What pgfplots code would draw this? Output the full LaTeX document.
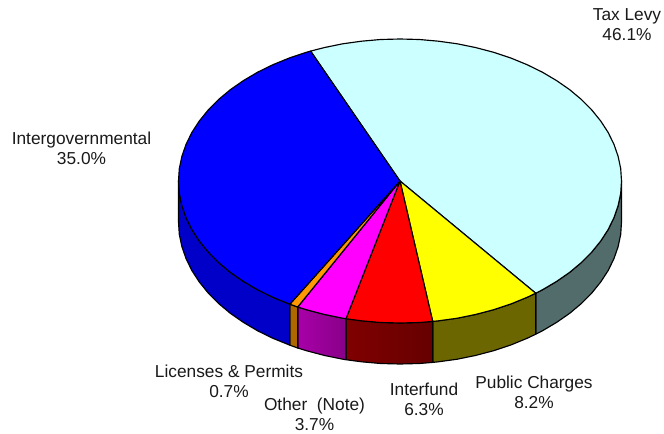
\documentclass[border=0pt]{standalone}
\usepackage{fontspec}
\setmainfont{Liberation Sans}
\usepackage{pgfplots}
\pgfplotsset{compat=1.18}
\definecolor{taxtop}{HTML}{CCFFFF}
\definecolor{taxside}{HTML}{526B6B}
\definecolor{puretop}{HTML}{FFFF00}
\definecolor{pubside}{HTML}{6B6600}
\definecolor{redtop}{HTML}{FF0000}
\definecolor{redsideA}{HTML}{800000}
\definecolor{redsideB}{HTML}{660000}
\definecolor{magtop}{HTML}{FF00FF}
\definecolor{magsideA}{HTML}{A800A8}
\definecolor{magsideB}{HTML}{880088}
\definecolor{bluetop}{HTML}{0000FF}
\definecolor{blueside}{HTML}{0000C8}
\definecolor{orangetop}{HTML}{FF9900}
\definecolor{orangeside}{HTML}{AD6800}
\tikzset{lab/.style={font=\fontsize{17.3bp}{20bp}\selectfont, text=black!90, align=center, inner sep=0pt}}
\begin{document}
\begin{tikzpicture}
\path[use as bounding box] (0,0) rectangle (664bp,434bp);
\begin{axis}[
  at={(0,0)}, anchor=south west,
  scale only axis, width=664bp, height=434bp,
  xmin=0, xmax=664, ymin=0, ymax=434,
  y dir=reverse, hide axis, clip=false,
  every axis plot/.append style={draw=black, line width=1.15bp, line join=round}]
% side walls
\addplot[fill=taxside] coordinates {(621.5,181) (620.7,193.4) (618.1,205.7) (613.9,217.8) (608.1,229.6) (600.7,241) (591.8,252) (581.4,262.5) (569.7,272.3) (556.6,281.4) (542.4,289.8) (535.7,293.2)
  (535.7,334.2) (542.4,330.8) (556.6,322.4) (569.7,313.3) (581.4,303.5) (591.8,293) (600.7,282) (608.1,270.6) (613.9,258.8) (618.1,246.7) (620.7,234.4) (621.5,222)} --cycle;
\addplot[fill=pubside] coordinates {(535.7,293.2) (527.1,297.3) (510.8,304) (493.6,309.7) (475.8,314.4) (457.3,318.2) (438.5,320.8) (432.7,321.4)
  (432.7,362.4) (438.5,361.8) (457.3,359.2) (475.8,355.4) (493.6,350.7) (510.8,345) (527.1,338.3) (535.7,334.2)} --cycle;
\addplot[left color=redsideA, right color=redsideB] coordinates {(432.7,321.4) (419.3,322.5) (400,323) (380.7,322.5) (361.5,320.8) (346,318.7)
  (346,359.7) (361.5,361.8) (380.7,363.5) (400,364) (419.3,363.5) (432.7,362.4)} --cycle;
\addplot[left color=magsideA, right color=magsideB] coordinates {(346,318.7) (342.7,318.2) (324.2,314.4) (306.4,309.7) (297.7,307)
  (297.7,348) (306.4,350.7) (324.2,355.4) (342.7,359.2) (346,359.7)} --cycle;
\addplot[fill=orangeside] coordinates {(297.7,307) (289.9,304.2) (289.9,345.2) (297.7,348)} --cycle;
\addplot[fill=blueside] coordinates {(289.9,304.2) (272.9,297.3) (257.6,289.8) (243.4,281.4) (230.3,272.3) (218.6,262.5) (208.2,252) (199.3,241) (191.9,229.6) (186.1,217.8) (181.9,205.7) (179.3,193.4) (178.5,181)
  (178.5,222) (179.3,234.4) (181.9,246.7) (186.1,258.8) (191.9,270.6) (199.3,282) (208.2,293) (218.6,303.5) (230.3,313.3) (243.4,322.4) (257.6,330.8) (272.9,338.3) (289.9,345.2)} --cycle;
% top faces
\addplot[fill=taxtop] coordinates {(400,181) (310.6,51.1) (324.2,47.6) (342.7,43.8) (361.5,41.2) (380.7,39.5) (400,39) (419.3,39.5) (438.5,41.2) (457.3,43.8) (475.8,47.6) (493.6,52.3) (510.8,58) (527.1,64.7) (542.4,72.2) (556.6,80.6) (569.7,89.7) (581.4,99.5) (591.8,110) (600.7,121) (608.1,132.4) (613.9,144.2) (618.1,156.3) (620.7,168.6) (621.5,181) (620.7,193.4) (618.1,205.7) (613.9,217.8) (608.1,229.6) (600.7,241) (591.8,252) (581.4,262.5) (569.7,272.3) (556.6,281.4) (542.4,289.8) (535.7,293.2)} --cycle;
\addplot[fill=puretop] coordinates {(400,181) (535.7,293.2) (527.1,297.3) (510.8,304) (493.6,309.7) (475.8,314.4) (457.3,318.2) (438.5,320.8) (432.7,321.4)} --cycle;
\addplot[fill=redtop] coordinates {(400,181) (432.7,321.4) (419.3,322.5) (400,323) (380.7,322.5) (361.5,320.8) (346,318.7)} --cycle;
\addplot[fill=magtop] coordinates {(400,181) (346,318.7) (342.7,318.2) (324.2,314.4) (306.4,309.7) (297.7,307)} --cycle;
\addplot[fill=orangetop] coordinates {(400,181) (297.7,307) (289.9,304.2)} --cycle;
\addplot[fill=bluetop] coordinates {(400,181) (289.9,304.2) (272.9,297.3) (257.6,289.8) (243.4,281.4) (230.3,272.3) (218.6,262.5) (208.2,252) (199.3,241) (191.9,229.6) (186.1,217.8) (181.9,205.7) (179.3,193.4) (178.5,181) (179.3,168.6) (181.9,156.3) (186.1,144.2) (191.9,132.4) (199.3,121) (208.2,110) (218.6,99.5) (230.3,89.7) (243.4,80.6) (257.6,72.2) (272.9,64.7) (289.3,58) (306.4,52.3) (310.6,51.1)} --cycle;
% labels
\node[lab] at (axis cs:627,25) {Tax Levy\\46.1\%};
\node[lab] at (axis cs:81.5,148) {Intergovernmental\\35.0\%};
\node[lab] at (axis cs:229,381) {Licenses \& Permits\\0.7\%};
\node[lab] at (axis cs:314.5,414.5) {Other\ \ (Note)\\3.7\%};
\node[lab] at (axis cs:424,399) {Interfund\\6.3\%};
\node[lab] at (axis cs:534,392) {Public Charges\\8.2\%};
\end{axis}
\end{tikzpicture}
\end{document}
